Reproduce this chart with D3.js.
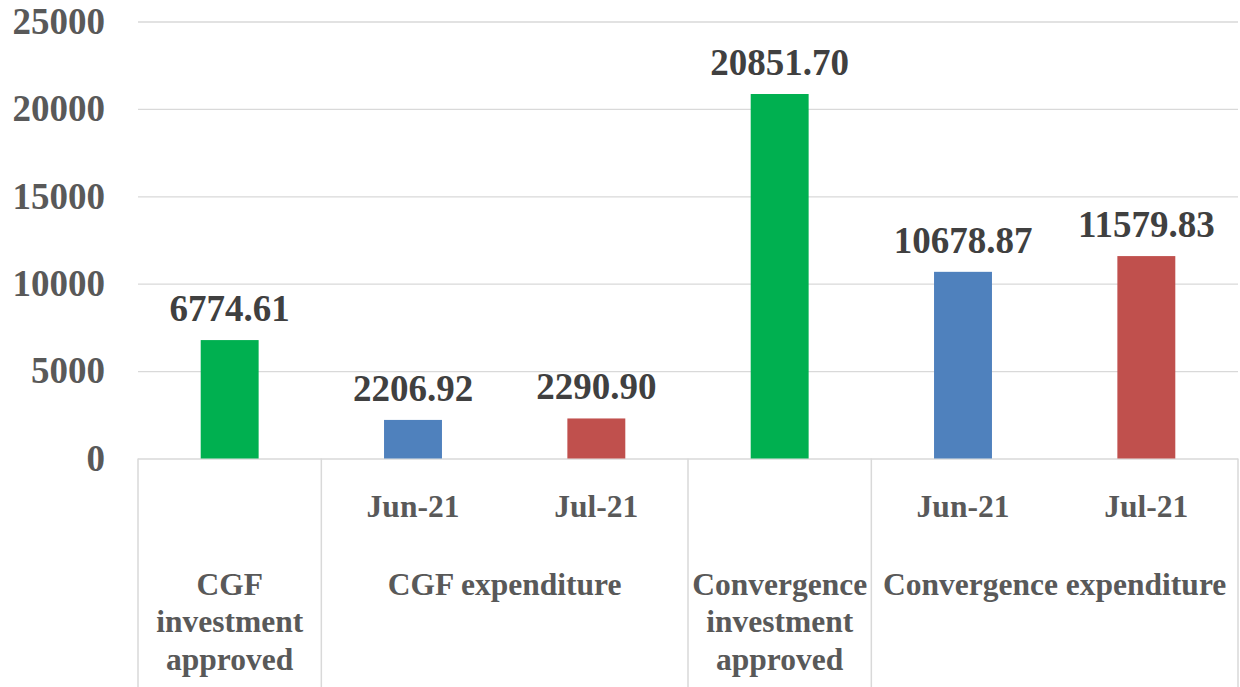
<!DOCTYPE html>
<html>
<head>
<meta charset="utf-8">
<script src="https://cdn.jsdelivr.net/npm/d3@7"></script>
<style>
  html, body { margin: 0; padding: 0; background: #fff; }
  svg { display: block; font-family: "Liberation Serif", "Times New Roman", serif; font-weight: bold; }
</style>
</head>
<body>
<div id="chart"></div>
<script>
// values
var barKeys = ["cgfInv", "cgfJun", "cgfJul", "convInv", "convJun", "convJul"];
var barValues = [6774.61, 2206.92, 2290.90, 20851.70, 10678.87, 11579.83];
var barSeries = ["approved", "jun", "jul", "approved", "jun", "jul"];
var monthLabels = ["", "Jun-21", "Jul-21", "", "Jun-21", "Jul-21"];
var groupLabels = [
    ["CGF", "investment", "approved"],
    ["CGF expenditure"],
    ["Convergence", "investment", "approved"],
    ["Convergence expenditure"]
];
var groupSizes = [1, 2, 1, 2];
var yTicks = [0, 5000, 10000, 15000, 20000, 25000];

var svgWidth = 1240;
var svgHeight = 687;

var margin = { top: 21.5, right: 2, bottom: 228.5, left: 138 };
var width = svgWidth - margin.left - margin.right;
var height = svgHeight - margin.top - margin.bottom;

var seriesColor = { approved: "#00B050", jun: "#4F81BD", jul: "#C0504D" };

var svg = d3.select("#chart")
    .append("svg")
    .attr("width", svgWidth)
    .attr("height", svgHeight);

var chartGroup = svg.append("g")
    .attr("transform", `translate(${margin.left}, ${margin.top})`);

var data = barKeys.map(function (k, i) {
    return { key: k, value: barValues[i], series: barSeries[i], month: monthLabels[i] };
});

var xScale = d3.scaleBand()
    .domain(barKeys)
    .range([0, width])
    .paddingInner(0.684)
    .paddingOuter(0.342);

var yScale = d3.scaleLinear()
    .domain([0, 25000])
    .range([height, 0]);

// y axis + gridlines
var leftAxis = d3.axisLeft(yScale)
    .tickValues(yTicks)
    .tickFormat(d3.format("d"))
    .tickSizeInner(-width)
    .tickSizeOuter(0)
    .tickPadding(33);

var yAxis = chartGroup.append("g").call(leftAxis);
yAxis.select(".domain").remove();
yAxis.selectAll(".tick line")
    .attr("stroke", "#D9D9D9")
    .attr("stroke-width", 1.3);
yAxis.selectAll(".tick text")
    .attr("fill", "#595959")
    .style("font-family", "Liberation Serif")
    .style("font-weight", "bold")
    .style("font-size", "37px");

// category axis: slot boundaries
var step = xScale.step();
function slotStart(i) {
    return xScale(barKeys[i]) - (step - xScale.bandwidth()) / 2;
}
var boundaries = [0];
var acc = 0;
groupSizes.forEach(function (n) { acc += n; boundaries.push(acc); });

chartGroup.selectAll("line.sep")
    .data(boundaries)
    .enter()
    .append("line")
    .classed("sep", true)
    .attr("x1", d => d < barKeys.length ? slotStart(d) : width)
    .attr("x2", d => d < barKeys.length ? slotStart(d) : width)
    .attr("y1", height)
    .attr("y2", svgHeight - margin.top)
    .attr("stroke", "#D9D9D9")
    .attr("stroke-width", 1.5);

// bars
chartGroup.selectAll("rect.bar")
    .data(data)
    .enter()
    .append("rect")
    .classed("bar", true)
    .attr("x", d => xScale(d.key))
    .attr("y", d => yScale(d.value))
    .attr("width", xScale.bandwidth())
    .attr("height", d => height - yScale(d.value))
    .attr("fill", d => seriesColor[d.series]);

// value labels
chartGroup.selectAll("text.val")
    .data(data)
    .enter()
    .append("text")
    .classed("val", true)
    .attr("x", d => xScale(d.key) + xScale.bandwidth() / 2)
    .attr("y", d => yScale(d.value) - 19)
    .attr("text-anchor", "middle")
    .attr("fill", "#404040")
    .style("font-size", "37px")
    .text(d => d3.format(".2f")(d.value));

// month labels
chartGroup.selectAll("text.month")
    .data(data.filter(d => d.month !== ""))
    .enter()
    .append("text")
    .classed("month", true)
    .attr("x", d => xScale(d.key) + xScale.bandwidth() / 2)
    .attr("y", height + 58)
    .attr("text-anchor", "middle")
    .attr("fill", "#595959")
    .style("font-size", "31.5px")
    .text(d => d.month);

// group labels
var groupText = chartGroup.selectAll("text.group")
    .data(groupLabels)
    .enter()
    .append("text")
    .classed("group", true)
    .attr("x", function (d, i) {
        var a = boundaries[i], b = boundaries[i + 1];
        var x1 = slotStart(a);
        var x2 = b < barKeys.length ? slotStart(b) : width;
        return (x1 + x2) / 2;
    })
    .attr("y", height + 136)
    .attr("text-anchor", "middle")
    .attr("fill", "#595959")
    .style("font-size", "31.5px");

groupText.each(function (lines) {
    var t = d3.select(this);
    var x = t.attr("x");
    lines.forEach(function (line, j) {
        t.append("tspan")
            .attr("x", x)
            .attr("dy", j === 0 ? 0 : 37.5)
            .text(line);
    });
});
</script>
</body>
</html>
